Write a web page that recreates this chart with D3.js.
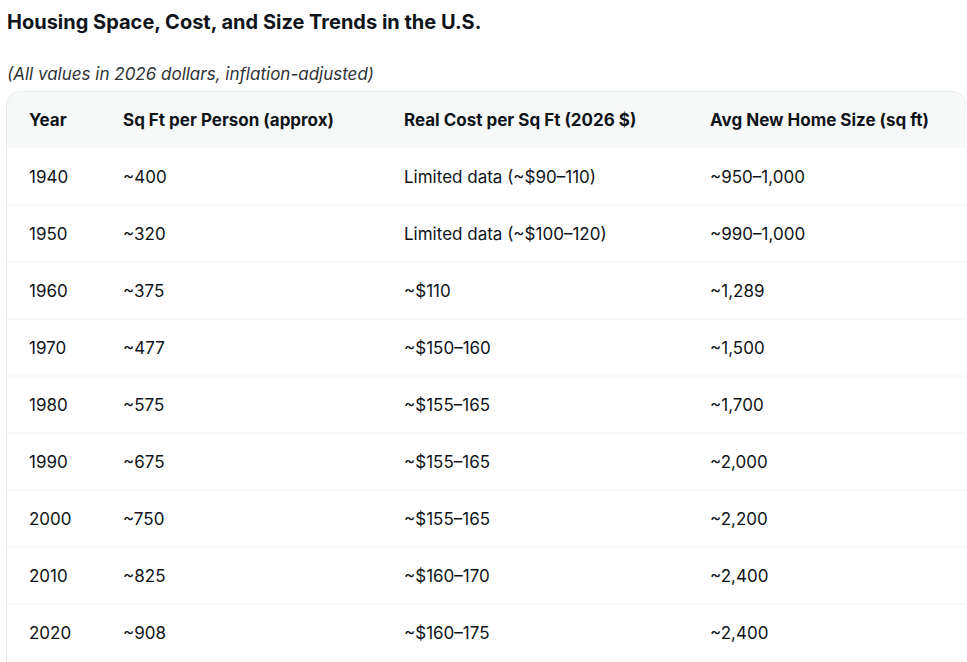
<!DOCTYPE html>
<html><head><meta charset="utf-8">
<script src="https://cdn.jsdelivr.net/npm/d3@7"></script>
<style>body{margin:0;background:#fff;overflow:hidden}</style>
</head><body><svg id="c" width="967" height="662"></svg>
<script>
const title = "Housing Space, Cost, and Size Trends in the U.S.";
const subtitle = "(All values in 2026 dollars, inflation-adjusted)";
const headers = ["Year","Sq Ft per Person (approx)","Real Cost per Sq Ft (2026 $)","Avg New Home Size (sq ft)"];
const years = ["1940","1950","1960","1970","1980","1990","2000","2010","2020"];
const sqftPerPerson = ["~400","~320","~375","~477","~575","~675","~750","~825","~908"];
const costPerSqft = ["Limited data (~$90–110)","Limited data (~$100–120)","~$110","~$150–160","~$155–165","~$155–165","~$155–165","~$160–170","~$160–175"];
const homeSize = ["~950–1,000","~990–1,000","~1,289","~1,500","~1,700","~2,000","~2,200","~2,400","~2,400"];

const svg = d3.select("#c");
const font = "Inter, 'Open Sans', sans-serif";
const ink = "#0f1419";
svg.append("text").attr("x",7).attr("y",29).attr("font-family",font).attr("font-weight",700)
  .attr("font-size",20).attr("fill",ink).text(title);
svg.append("text").attr("x",7).attr("y",80).attr("font-family",font).attr("font-style","italic")
  .attr("font-size",17).attr("fill","#2f3336").text(subtitle);

const rows = years.map((y,i)=>[y,sqftPerPerson[i],costPerSqft[i],homeSize[i]]);
const topY = 91, headH = 57, rowH = 57, leftX = 6, rightX = 966;
const colX = d3.scaleOrdinal().domain([0,1,2,3]).range([29,123,404,710]);
const rowY = d3.scaleBand().domain(d3.range(rows.length)).range([topY+headH, topY+headH+rowH*rows.length]);

const clip = svg.append("defs").append("clipPath").attr("id","card");
clip.append("rect").attr("x",leftX).attr("y",topY).attr("width",rightX-leftX).attr("height",700).attr("rx",14);
const g = svg.append("g").attr("clip-path","url(#card)");
g.append("rect").attr("x",leftX).attr("y",topY).attr("width",rightX-leftX).attr("height",headH).attr("fill","#f7f9f9");
g.selectAll("line.r").data(d3.range(rows.length)).join("line")
  .attr("x1",leftX).attr("x2",rightX).attr("y1",i=>rowY(i)+rowH).attr("y2",i=>rowY(i)+rowH)
  .attr("stroke","#eff3f4");
g.append("rect").attr("x",leftX+0.5).attr("y",topY+0.5).attr("width",rightX-leftX).attr("height",700).attr("rx",14)
  .attr("fill","none").attr("stroke","#e6ecf0");
g.selectAll("text.h").data(headers).join("text")
  .attr("x",(d,i)=>colX(i)).attr("y",topY+headH/2+6).attr("font-family",font).attr("font-weight",700)
  .attr("font-size",17).attr("fill",ink).text(d=>d);
rows.forEach((r,i)=>{
  g.selectAll(null).data(r).join("text")
    .attr("x",(d,j)=>colX(j)).attr("y",rowY(i)+rowH/2+6).attr("font-family",font)
    .attr("font-size",17).attr("fill",ink).text(d=>d);
});
</script></body></html>
